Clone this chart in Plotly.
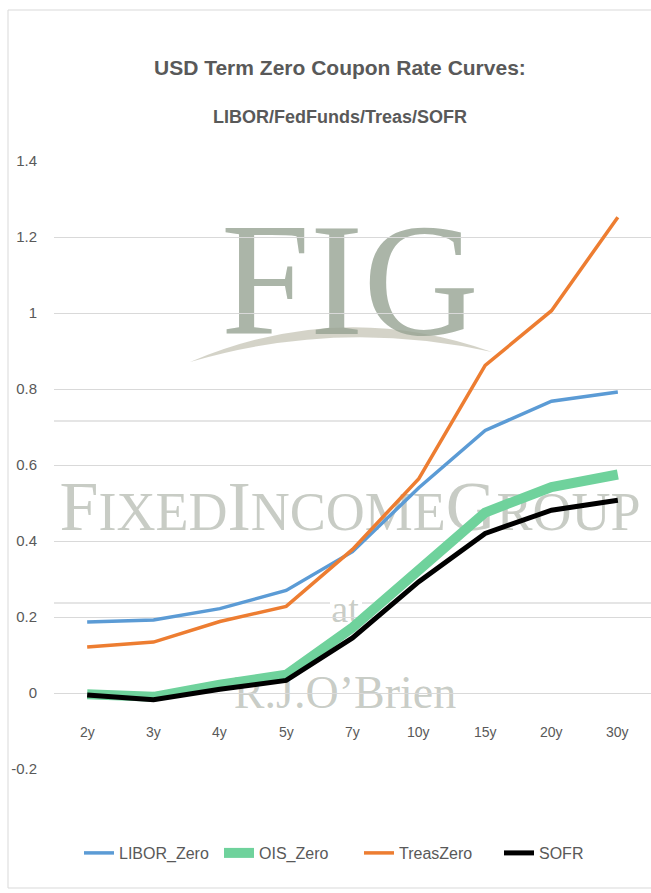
import plotly.graph_objects as go

# ---- data ----
tenors = ["2y", "3y", "4y", "5y", "7y", "10y", "15y", "20y", "30y"]
libor_zero = [0.187, 0.192, 0.222, 0.270, 0.372, 0.540, 0.691, 0.768, 0.792]
ois_zero = [-0.003, -0.010, 0.022, 0.048, 0.172, 0.322, 0.475, 0.542, 0.575]
treas_zero = [0.121, 0.134, 0.188, 0.228, 0.378, 0.564, 0.862, 1.006, 1.252]
sofr = [-0.005, -0.018, 0.010, 0.033, 0.145, 0.293, 0.420, 0.481, 0.507]

series_names = ["LIBOR_Zero", "OIS_Zero", "TreasZero", "SOFR"]
y_tickvals = [-0.2, 0, 0.2, 0.4, 0.6, 0.8, 1.0, 1.2, 1.4]
y_ticktext = ["-0.2", "0", "0.2", "0.4", "0.6", "0.8", "1", "1.2", "1.4"]

title_text = "USD Term Zero Coupon Rate Curves:"
subtitle_text = "LIBOR/FedFunds/Treas/SOFR"

# ---- styling ----
W, H = 651, 893
ML, MR, MT, MB = 54, 0, 161, 124
PW, PH = W - ML - MR, H - MT - MB
FONT = "Liberation Sans, Arial, sans-serif"
SERIF = "Liberation Serif, DejaVu Serif, serif"
TXT = "#595959"
GRID = "#D9D9D9"


def px(x):
    return (x - ML) / PW


def py(y):
    return (H - MB - y) / PH


fig = go.Figure()
styles = [
    dict(color="#5B9BD5", width=3.5),
    dict(color="#6FD29C", width=10),
    dict(color="#ED7D31", width=3.5),
    dict(color="#000000", width=5),
]
for name, vals, st in zip(series_names, [libor_zero, ois_zero, treas_zero, sofr], styles):
    fig.add_trace(go.Scatter(x=tenors, y=vals, name=name, mode="lines",
                             line=dict(color=st["color"], width=st["width"]),
                             hoverinfo="x+y+name"))

annotations = [
    dict(text=f"<b>{title_text}</b>", x=px(340), y=py(67), xref="paper", yref="paper",
         xanchor="center", yanchor="middle",
         showarrow=False, font=dict(family=FONT, size=21, color=TXT)),
    dict(text=f"<b>{subtitle_text}</b>", x=px(340), y=py(117), xref="paper", yref="paper",
         xanchor="center", yanchor="middle",
         showarrow=False, font=dict(family=FONT, size=18, color=TXT)),
]
for t in tenors:
    annotations.append(dict(text=t, x=t, y=0, xref="x", yref="y", yshift=-39,
                            showarrow=False, font=dict(family=FONT, size=14, color=TXT)))

wm_col = "rgba(150,163,146,0.8)"
wm_col2 = "rgba(170,176,166,0.65)"
big, small = 70, 54
fig_group = (f"<span style='font-size:{big}px'>F</span>IXED"
             f"<span style='font-size:{big}px'>I</span>NCOME"
             f"<span style='font-size:{big}px'>G</span>ROUP")

shapes = [
    # chart border
    dict(type="rect", xref="paper", yref="paper", x0=px(8), x1=px(W + 30), y0=py(888), y1=py(10),
         line=dict(color=GRID, width=1), layer="below"),
    # watermark rules
    dict(type="line", xref="paper", yref="paper", x0=0, x1=1, y0=py(421), y1=py(421),
         line=dict(color="#DDDDDD", width=1.5), layer="below"),
    dict(type="line", xref="paper", yref="paper", x0=0, x1=px(330), y0=py(603), y1=py(603),
         line=dict(color="#DDDDDD", width=1.5), layer="below"),
    dict(type="line", xref="paper", yref="paper", x0=px(362), x1=1, y0=py(603), y1=py(603),
         line=dict(color="#DDDDDD", width=1.5), layer="below"),
    # swoosh
    dict(type="path", xref="paper", yref="paper", layer="below",
         path=(f"M {px(190)} {py(362)} Q {px(340)} {py(298)} {px(492)} {py(352)} "
               f"Q {px(340)} {py(318)} {px(190)} {py(362)} Z"),
         fillcolor="rgba(205,203,190,0.85)", line=dict(width=0)),
    # watermark texts as shape labels (drawn below traces)
    dict(type="rect", xref="paper", yref="paper", layer="below",
         x0=px(200), x1=px(500), y0=py(350), y1=py(175), line=dict(width=0),
         label=dict(text="FIG", font=dict(family=SERIF, size=160, color=wm_col),
                    textposition="middle center")),
    dict(type="rect", xref="paper", yref="paper", layer="below",
         x0=px(40), x1=px(660), y0=py(560), y1=py(468), line=dict(width=0),
         label=dict(text=fig_group, font=dict(family=SERIF, size=small, color=wm_col2),
                    textposition="middle center")),
    dict(type="rect", xref="paper", yref="paper", layer="below",
         x0=px(320), x1=px(370), y0=py(625), y1=py(585), line=dict(width=0),
         label=dict(text="at", font=dict(family=SERIF, size=38, color=wm_col2),
                    textposition="middle center")),
    dict(type="rect", xref="paper", yref="paper", layer="below",
         x0=px(235), x1=px(455), y0=py(715), y1=py(660), line=dict(width=0),
         label=dict(text="R.J.O\u2019Brien", font=dict(family=SERIF, size=46, color=wm_col2),
                    textposition="middle center")),
]

fig.update_layout(
    width=W, height=H,
    margin=dict(l=ML, r=MR, t=MT, b=MB, pad=0),
    paper_bgcolor="white", plot_bgcolor="rgba(0,0,0,0)",
    showlegend=True,
    legend=dict(orientation="h", x=px(359), xanchor="center", y=py(853), yanchor="middle",
                font=dict(family=FONT, size=16, color=TXT), bgcolor="rgba(0,0,0,0)",
                itemwidth=30, tracegroupgap=0, entrywidth=95, entrywidthmode="pixels"),
    xaxis=dict(type="category", showticklabels=False, showgrid=False, zeroline=False,
               showline=False, ticks="", range=[-0.5, len(tenors) - 0.5], fixedrange=True),
    yaxis=dict(range=[-0.2, 1.4], tickvals=y_tickvals, ticktext=y_ticktext,
               showgrid=True, gridcolor=GRID, gridwidth=1.2, zeroline=True,
               zerolinecolor=GRID, zerolinewidth=1.2, showline=False, ticks="",
               ticklabelstandoff=16, tickfont=dict(family=FONT, size=15, color=TXT),
               fixedrange=True),
    annotations=annotations,
    shapes=shapes,
)

fig.write_html("out.html", config={"displayModeBar": False},
               post_script="document.body.style.margin='0';document.body.style.overflow='hidden';")
